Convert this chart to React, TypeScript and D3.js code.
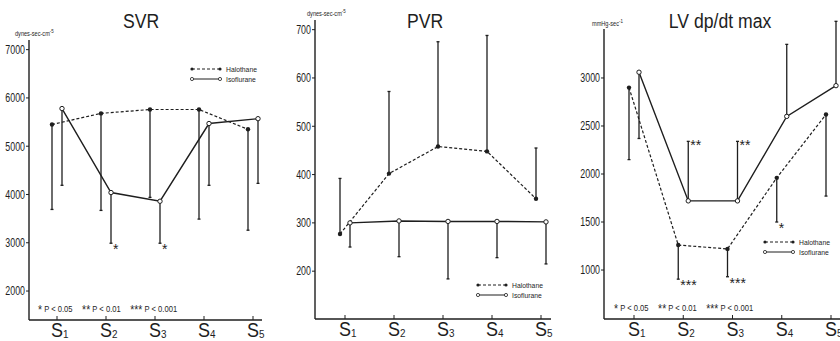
import * as d3 from 'd3';
import type { ReactNode } from 'react';

// stages S1..S5
const stages = ['1', '2', '3', '4', '5'];

// SVR (dynes-sec-cm-5)
const svrHalothane = [5450, 5680, 5760, 5760, 5350];
const svrHalothaneBar = [3690, 3670, 3940, 3490, 3260];
const svrIsoflurane = [5780, 4040, 3860, 5470, 5570];
const svrIsofluraneBar = [4190, 2990, 2990, 4190, 4230];
const svrHalothaneSig = ['', '', '', '', ''];
const svrIsofluraneSig = ['', '*', '*', '', ''];
const svrTicks = [2000, 3000, 4000, 5000, 6000, 7000];

// PVR (dynes-sec-cm-5)
const pvrHalothane = [277, 402, 458, 448, 350];
const pvrHalothaneBar = [392, 572, 675, 688, 455];
const pvrIsoflurane = [300, 304, 303, 303, 302];
const pvrIsofluraneBar = [250, 230, 184, 228, 215];
const pvrHalothaneSig = ['', '', '', '', ''];
const pvrIsofluraneSig = ['', '', '', '', ''];
const pvrTicks = [200, 300, 400, 500, 600, 700];

// LV dp/dt max (mmHg-sec-1)
const lvHalothane = [2900, 1260, 1220, 1960, 2620];
const lvHalothaneBar = [2150, 905, 930, 1500, 1770];
const lvIsoflurane = [3060, 1720, 1720, 2600, 2920];
const lvIsofluraneBar = [2370, 2340, 2340, 3350, 3590];
const lvHalothaneSig = ['', '***', '***', '*', ''];
const lvIsofluraneSig = ['', '**', '**', '', ''];
const lvTicks = [1000, 1500, 2000, 2500, 3000];

const ink = '#1e1e1e';
const font = '"Liberation Sans", Arial, sans-serif';

// scanned figure uses a condensed face, so squeeze the text horizontally
function NText(props: {
  x: number;
  y: number;
  size: number;
  sx?: number;
  anchor?: 'start' | 'middle' | 'end';
  weight?: string | number;
  children: ReactNode;
}) {
  const { x, y, size, sx = 0.78, anchor = 'start', weight = 'normal', children } = props;
  return (
    <text
      transform={`translate(${x},${y}) scale(${sx},1)`}
      textAnchor={anchor}
      fontSize={size}
      fontFamily={font}
      fontWeight={weight}
      fill={ink}
    >
      {children}
    </text>
  );
}

interface PanelProps {
  title: string;
  titleX: number;
  unit: string;
  unitExp: string;
  unitX: number;
  unitY: number;
  axisX: number;
  axisRight: number;
  axisTop: number;
  axisBottom: number;
  xFirst: number;
  xLast: number;
  domain: [number, number];
  ticks: number[];
  halothane: number[];
  halothaneBar: number[];
  isoflurane: number[];
  isofluraneBar: number[];
  halothaneSig: string[];
  isofluraneSig: string[];
  legendX: number;
  legendY: number;
  footnoteX?: number;
}

function Panel(p: PanelProps) {
  const x = d3.scalePoint<string>().domain(stages).range([p.xFirst, p.xLast]);
  const y = d3.scaleLinear().domain(p.domain).range([p.axisBottom, p.axisTop]);
  const off = 5;
  const hx = (i: number) => (x(stages[i]) ?? 0) - off;
  const ix = (i: number) => (x(stages[i]) ?? 0) + off;

  const haloLine = d3
    .line<number>()
    .x((_, i) => hx(i))
    .y((v) => y(v));
  const isoLine = d3
    .line<number>()
    .x((_, i) => ix(i))
    .y((v) => y(v));

  const bar = (cx: number, v: number, end: number, sig: string, key: string) => (
    <g key={key}>
      <line x1={cx} x2={cx} y1={y(v)} y2={y(end)} stroke={ink} strokeWidth={1.3} />
      <line x1={cx - 1.5} x2={cx + 1.5} y1={y(end)} y2={y(end)} stroke={ink} strokeWidth={1.3} />
      {sig && (
        <NText x={cx + 2} y={end < v ? y(end) + 11 : y(end) + 9} size={14} sx={1}>
          {sig}
        </NText>
      )}
    </g>
  );

  return (
    <g>
      <NText x={p.titleX} y={28} size={21} sx={0.84} anchor="middle">
        {p.title}
      </NText>
      <NText x={p.unitX} y={p.unitY} size={7} sx={0.8}>
        {p.unit}
        <tspan dy={-3} fontSize={5.5}>
          {p.unitExp}
        </tspan>
      </NText>

      {/* axes */}
      <line x1={p.axisX} x2={p.axisX} y1={p.axisTop} y2={p.axisBottom} stroke={ink} strokeWidth={1.4} />
      <line x1={p.axisX} x2={p.axisRight} y1={p.axisBottom} y2={p.axisBottom} stroke={ink} strokeWidth={1.4} />
      {p.ticks.map((t) => (
        <g key={t}>
          <line x1={p.axisX - 3} x2={p.axisX} y1={y(t)} y2={y(t)} stroke={ink} strokeWidth={1} />
          <NText x={p.axisX - 4} y={y(t) + 4.3} size={12} sx={0.74} anchor="end">
            {t}
          </NText>
        </g>
      ))}
      {stages.map((s) => (
        <g key={s}>
          <line x1={x(s)} x2={x(s)} y1={p.axisBottom - 4} y2={p.axisBottom} stroke={ink} strokeWidth={1} />
          <NText x={(x(s) ?? 0) - 6} y={p.axisBottom + 17} size={20} sx={0.9}>
            S
            <tspan dy={1} fontSize={11}>
              {s}
            </tspan>
          </NText>
        </g>
      ))}

      {/* error bars */}
      {p.halothane.map((v, i) => bar(hx(i), v, p.halothaneBar[i], p.halothaneSig[i], `h${i}`))}
      {p.isoflurane.map((v, i) => bar(ix(i), v, p.isofluraneBar[i], p.isofluraneSig[i], `i${i}`))}

      {/* series */}
      <path d={haloLine(p.halothane) ?? ''} fill="none" stroke={ink} strokeWidth={1.2} strokeDasharray="3,2" />
      <path d={isoLine(p.isoflurane) ?? ''} fill="none" stroke={ink} strokeWidth={1.4} />
      {p.halothane.map((v, i) => (
        <circle key={`hp${i}`} cx={hx(i)} cy={y(v)} r={2.2} fill={ink} />
      ))}
      {p.isoflurane.map((v, i) => (
        <circle key={`ip${i}`} cx={ix(i)} cy={y(v)} r={2.2} fill="#fff" stroke={ink} strokeWidth={1} />
      ))}

      {/* legend */}
      <g>
        <line x1={p.legendX} x2={p.legendX + 28} y1={p.legendY} y2={p.legendY} stroke={ink} strokeDasharray="3,2" />
        <circle cx={p.legendX} cy={p.legendY} r={1.6} fill={ink} />
        <circle cx={p.legendX + 28} cy={p.legendY} r={1.6} fill={ink} />
        <NText x={p.legendX + 34} y={p.legendY + 3} size={8} sx={0.85}>
          Halothane
        </NText>
        <line x1={p.legendX} x2={p.legendX + 28} y1={p.legendY + 10} y2={p.legendY + 10} stroke={ink} />
        <circle cx={p.legendX} cy={p.legendY + 10} r={1.6} fill="#fff" stroke={ink} strokeWidth={0.8} />
        <circle cx={p.legendX + 28} cy={p.legendY + 10} r={1.6} fill="#fff" stroke={ink} strokeWidth={0.8} />
        <NText x={p.legendX + 34} y={p.legendY + 13} size={8} sx={0.85}>
          Isoflurane
        </NText>
      </g>

      {p.footnoteX !== undefined && (
        <NText x={p.footnoteX} y={p.axisBottom - 8} size={9.5} sx={0.8}>
          <tspan fontSize={13} dy={2}>*</tspan>
          <tspan dy={-2}> P &lt; 0.05</tspan>
          <tspan dx={12} fontSize={13} dy={2}>**</tspan>
          <tspan dy={-2}> P &lt; 0.01</tspan>
          <tspan dx={12} fontSize={13} dy={2}>***</tspan>
          <tspan dy={-2}> P &lt; 0.001</tspan>
        </NText>
      )}
    </g>
  );
}

export default function App() {
  return (
    <svg
      width={840}
      height={341}
      viewBox="0 0 840 341"
      style={{ position: 'fixed', left: 0, top: 0, background: '#fff' }}
    >
      <rect width={840} height={341} fill="#fff" />
      <Panel
        title="SVR"
        titleX={141}
        unit="dynes-sec-cm"
        unitExp="-5"
        unitX={15}
        unitY={36}
        axisX={29}
        axisRight={262}
        axisTop={40}
        axisBottom={320}
        xFirst={57}
        xLast={253}
        domain={[1400, 7200]}
        ticks={svrTicks}
        halothane={svrHalothane}
        halothaneBar={svrHalothaneBar}
        isoflurane={svrIsoflurane}
        isofluraneBar={svrIsofluraneBar}
        halothaneSig={svrHalothaneSig}
        isofluraneSig={svrIsofluraneSig}
        legendX={192}
        legendY={69}
        footnoteX={38}
      />
      <Panel
        title="PVR"
        titleX={425}
        unit="dynes-sec-cm"
        unitExp="-5"
        unitX={307}
        unitY={16}
        axisX={315}
        axisRight={551}
        axisTop={20}
        axisBottom={319}
        xFirst={345}
        xLast={541}
        domain={[101, 720]}
        ticks={pvrTicks}
        halothane={pvrHalothane}
        halothaneBar={pvrHalothaneBar}
        isoflurane={pvrIsoflurane}
        isofluraneBar={pvrIsofluraneBar}
        halothaneSig={pvrHalothaneSig}
        isofluraneSig={pvrIsofluraneSig}
        legendX={478}
        legendY={285}
      />
      <Panel
        title="LV dp/dt max"
        titleX={720}
        unit="mmHg-sec"
        unitExp="-1"
        unitX={592}
        unitY={26}
        axisX={604}
        axisRight={840}
        axisTop={29}
        axisBottom={319}
        xFirst={634}
        xLast={831}
        domain={[490, 3510]}
        ticks={lvTicks}
        halothane={lvHalothane}
        halothaneBar={lvHalothaneBar}
        isoflurane={lvIsoflurane}
        isofluraneBar={lvIsofluraneBar}
        halothaneSig={lvHalothaneSig}
        isofluraneSig={lvIsofluraneSig}
        legendX={765}
        legendY={242}
        footnoteX={614}
      />
    </svg>
  );
}
